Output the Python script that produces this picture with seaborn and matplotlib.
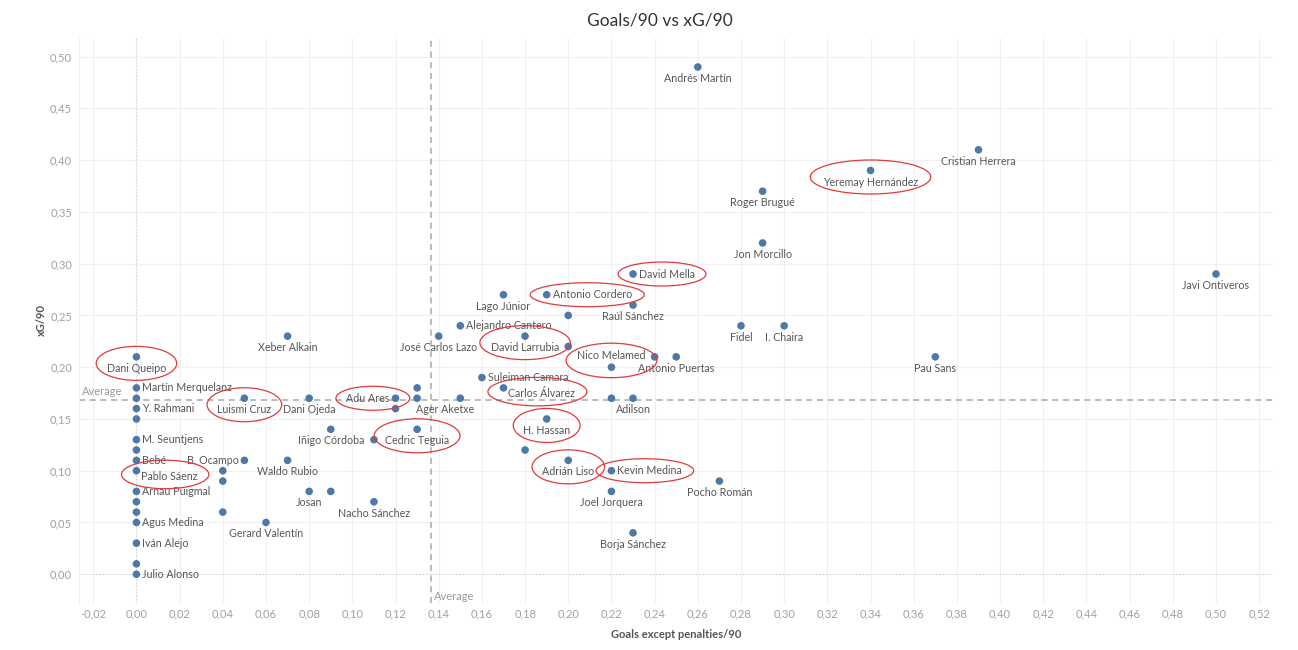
import matplotlib
matplotlib.use("Agg")
import matplotlib.pyplot as plt
import pandas as pd
import seaborn as sns
from matplotlib.patches import Ellipse
from matplotlib.ticker import MultipleLocator, FuncFormatter
from matplotlib.transforms import IdentityTransform

# Data (empty name = unlabeled mark)
players = [
    "Dani Queipo", "Martín Merquelanz", "", "Y. Rahmani", "", "M. Seuntjens", "", "Bebé",
    "Pablo Sáenz", "Arnau Puigmal", "", "", "Agus Medina", "Iván Alejo", "", "Julio Alonso",
    "", "", "", "Luismi Cruz", "B. Ocampo", "Gerard Valentín", "Xeber Alkain", "Waldo Rubio",
    "Dani Ojeda", "Josan", "Iñigo Córdoba", "", "", "Nacho Sánchez", "Adu Ares", "",
    "", "", "Cedric Teguia", "José Carlos Lazo", "Alejandro Cantero", "Ager Aketxe",
    "Suleiman Camara", "Lago Júnior", "Carlos Álvarez", "David Larrubia", "", "Antonio Cordero",
    "H. Hassan", "", "", "Adrián Liso", "Nico Melamed", "", "Kevin Medina", "Joel Jorquera",
    "David Mella", "Raúl Sánchez", "Adilson", "Borja Sánchez", "", "Antonio Puertas",
    "Andrés Martín", "Pocho Román", "Fidel", "Roger Brugué", "Jon Morcillo", "I. Chaira",
    "Yeremay Hernández", "Pau Sans", "Cristian Herrera", "Javi Ontiveros",
]
goals_90 = [
    0.00, 0.00, 0.00, 0.00, 0.00, 0.00, 0.00, 0.00,
    0.00, 0.00, 0.00, 0.00, 0.00, 0.00, 0.00, 0.00,
    0.04, 0.04, 0.04, 0.05, 0.05, 0.06, 0.07, 0.07,
    0.08, 0.08, 0.09, 0.09, 0.11, 0.11, 0.12, 0.12,
    0.13, 0.13, 0.13, 0.14, 0.15, 0.15,
    0.16, 0.17, 0.17, 0.18, 0.18, 0.19,
    0.19, 0.20, 0.20, 0.20, 0.22, 0.22, 0.22, 0.22,
    0.23, 0.23, 0.23, 0.23, 0.24, 0.25,
    0.26, 0.27, 0.28, 0.29, 0.29, 0.30,
    0.34, 0.37, 0.39, 0.50,
]
xg_90 = [
    0.21, 0.18, 0.17, 0.16, 0.15, 0.13, 0.12, 0.11,
    0.10, 0.08, 0.07, 0.06, 0.05, 0.03, 0.01, 0.00,
    0.10, 0.09, 0.06, 0.17, 0.11, 0.05, 0.23, 0.11,
    0.17, 0.08, 0.14, 0.08, 0.13, 0.07, 0.17, 0.16,
    0.18, 0.17, 0.14, 0.23, 0.24, 0.17,
    0.19, 0.27, 0.18, 0.23, 0.12, 0.27,
    0.15, 0.25, 0.22, 0.11, 0.20, 0.17, 0.10, 0.08,
    0.29, 0.26, 0.17, 0.04, 0.21, 0.21,
    0.49, 0.09, 0.24, 0.37, 0.32, 0.24,
    0.39, 0.21, 0.41, 0.29,
]
avg_goals = 0.1364
avg_xg = 0.1683

highlighted = [
    "Dani Queipo", "Luismi Cruz", "Adu Ares", "Pablo Sáenz", "Cedric Teguia",
    "Yeremay Hernández", "David Mella", "Antonio Cordero", "David Larrubia",
    "Nico Melamed", "Carlos Álvarez", "H. Hassan", "Adrián Liso", "Kevin Medina",
]

# label placement (Tableau default is centered below the mark)
right_labels = {"Martín Merquelanz", "Y. Rahmani", "M. Seuntjens", "Bebé", "Arnau Puigmal",
                "Agus Medina", "Iván Alejo", "Julio Alonso", "David Mella", "Antonio Cordero",
                "Alejandro Cantero", "Suleiman Camara", "Kevin Medina"}
left_labels = {"B. Ocampo", "Adu Ares"}
above_labels = {"Nico Melamed"}
below_right_labels = {"Pablo Sáenz", "Carlos Álvarez"}
nudge_px = {"Ager Aketxe": (-15, 0)}

df = pd.DataFrame({"player": players, "goals": goals_90, "xg": xg_90})

sns.set_style("white")
plt.rcParams["font.family"] = ["Lato", "DejaVu Sans"]

fig = plt.figure(figsize=(12.98, 6.5), dpi=100)
ax = fig.add_axes([79 / 1298, 1 - 603 / 650, (1273 - 79) / 1298, (603 - 38) / 650])

ax.set_xlim(-0.0266, 0.5264)
ax.set_ylim(-0.0278, 0.518)
ax.xaxis.set_major_locator(MultipleLocator(0.02))
ax.yaxis.set_major_locator(MultipleLocator(0.05))
fmt = FuncFormatter(lambda v, p: f"{v:.2f}".replace(".", ",").replace("-0,00", "0,00"))
ax.xaxis.set_major_formatter(fmt)
ax.yaxis.set_major_formatter(fmt)
ax.grid(True, color="#f0f0f0", lw=0.8)
ax.set_axisbelow(True)
for s in ax.spines.values():
    s.set_visible(False)
ax.spines["left"].set_visible(True)
ax.spines["left"].set_color("#f0f0f0")
ax.tick_params(axis="both", length=0, labelsize=8, labelcolor="#a0a0a0")
ax.tick_params(axis="x", pad=4)
ax.tick_params(axis="y", pad=5)

ax.axhline(0, color="#d0d0d0", lw=0.8, ls=(0, (1, 2)), zorder=1)
ax.axvline(0, color="#d0d0d0", lw=0.8, ls=(0, (1, 2)), zorder=1)

# reference lines
ax.axvline(avg_goals, color="#a8a8a8", lw=1.1, ls=(0, (4, 3)), zorder=2)
ax.axhline(avg_xg, color="#a8a8a8", lw=1.1, ls=(0, (4, 3)), zorder=2)
ax.annotate("Average", (avg_goals, 0), xycoords=("data", "axes fraction"),
            xytext=(2, 1), textcoords="offset points", ha="left", va="bottom",
            fontsize=8, color="#999999")
ax.annotate("Average", (0, avg_xg), xycoords=("axes fraction", "data"),
            xytext=(2, 2), textcoords="offset points", ha="left", va="bottom",
            fontsize=8, color="#999999")

sns.scatterplot(data=df, x="goals", y="xg", color="#4e79a7", s=30, edgecolor="none",
                ax=ax, zorder=3, legend=False)

texts = {}
for name, gx, gy in zip(players, goals_90, xg_90):
    if not name:
        continue
    px = 0.72  # points per pixel
    if name in right_labels:
        off, ha, va = (6 * px, 0), "left", "center"
    elif name in left_labels:
        off, ha, va = (-6 * px, 0), "right", "center"
    elif name in above_labels:
        off, ha, va = (0, 12 * px), "center", "center"
    elif name in below_right_labels:
        off, ha, va = (5 * px, -6 * px), "left", "center"
    else:
        off, ha, va = (0, -11.5 * px), "center", "center"
    dx, dy = nudge_px.get(name, (0, 0))
    off = (off[0] + dx * px, off[1] + dy * px)
    t = ax.annotate(name, (gx, gy), xytext=off, textcoords="offset points",
                    ha=ha, va=va, fontsize=7.7, color="#555555", zorder=4)
    texts[name] = (t, gx, gy)

ax.set_xlabel("Goals except penalties/90", fontsize=8, color="#555555", fontweight="bold", labelpad=7)
ax.set_ylabel("xG/90", fontsize=8, color="#555555", fontweight="bold", labelpad=2)
fig.text(660 / 1298, 1 - 20 / 650, "Goals/90 vs xG/90", ha="center", va="center",
         fontsize=12.5, color="#333333")

# red hand-drawn style ellipses around highlighted players
fig.canvas.draw()
renderer = fig.canvas.get_renderer()
for name in highlighted:
    t, gx, gy = texts[name]
    bb = t.get_window_extent(renderer)
    mx, my = ax.transData.transform((gx, gy))
    x0, x1 = min(bb.x0, mx - 4), max(bb.x1, mx + 4)
    y0, y1 = min(bb.y0, my - 4), max(bb.y1, my + 4)
    e = Ellipse(((x0 + x1) / 2, (y0 + y1) / 2), (x1 - x0) * 1.12 + 14, (y1 - y0) + 13,
                transform=IdentityTransform(), fill=False, edgecolor="#e03a3a", lw=0.9, zorder=5)
    fig.add_artist(e)

fig.savefig("out.png", dpi=100)
